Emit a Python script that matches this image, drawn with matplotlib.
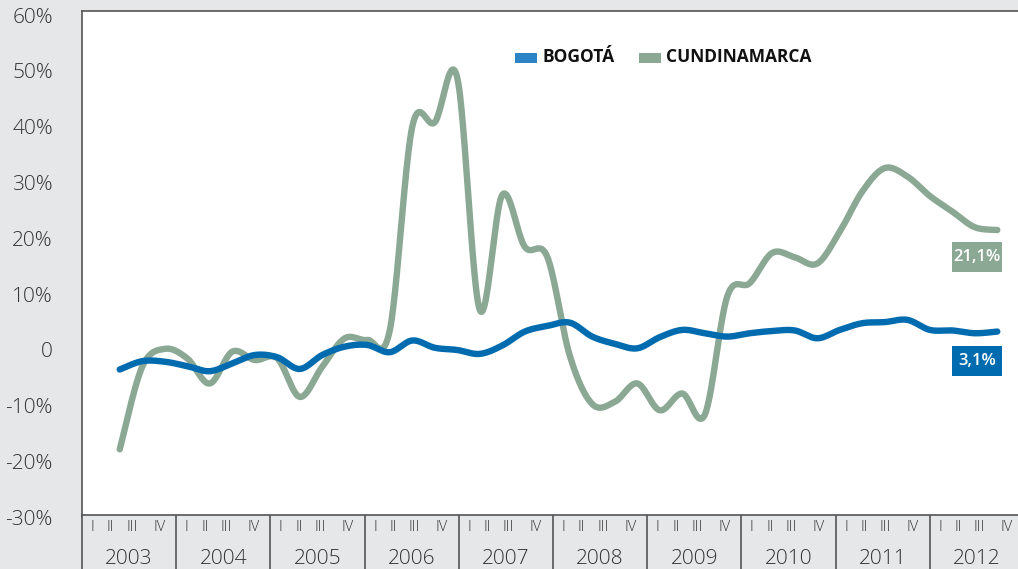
import matplotlib.pyplot as plt
import numpy as np
from matplotlib.patches import Rectangle

# datos trimestrales 2003 I - 2012 IV (variación anual, %)
years = ['2003', '2004', '2005', '2006', '2007', '2008', '2009', '2010', '2011', '2012']
quarters = ['I', 'II', 'III', 'IV']

bogota = [-3.5, -2.0, -2.1, -2.9, -3.8, -2.4, -0.9, -1.3, -3.4, -0.9,
          0.6, 0.9, -0.4, 1.7, 0.4, 0.0, -0.7, 0.8, 3.3, 4.3,
          4.9, 2.4, 1.1, 0.3, 2.3, 3.6, 3.0, 2.4, 3.0, 3.4,
          3.5, 2.1, 3.6, 4.8, 5.0, 5.4, 3.6, 3.5, 3.0, 3.3]
cundinamarca = [-17.8, -3.0, 0.2, -1.5, -6.0, -0.3, -1.8, -1.5, -8.4, -3.0,
                2.1, 1.8, 3.5, 40.0, 40.8, 48.8, 7.2, 27.8, 18.5, 16.7,
                -1.0, -9.7, -9.3, -6.0, -10.8, -7.8, -11.6, 9.6, 12.0, 17.4,
                16.6, 15.5, 21.2, 28.4, 32.6, 31.1, 27.6, 24.8, 22.0, 21.5]
bogota_label = '3,1%'
cund_label = '21,1%'

ytick_vals = [-30, -20, -10, 0, 10, 20, 30, 40, 50, 60]
ytick_labels = ['-30%', '-20%', '-10%', '0', '10%', '20%', '30%', '40%', '50%', '60%']

azul = '#006bae'
azul_ley = '#2a84c6'
verde = '#8aa893'
gris = '#e6e7e8'
texto = '#333333'
borde = '#555555'

plt.rcParams['font.family'] = ['Open Sans', 'DejaVu Sans']


# linea suavizada tipo Excel (bezier con puntos de control catmull-rom)
def suavizar(y, pasos=24):
    y = np.asarray(y, float)
    x = np.arange(len(y), dtype=float)
    xp = np.concatenate([[x[0]], x, [x[-1]]])
    yp = np.concatenate([[y[0]], y, [y[-1]]])
    t = np.linspace(0, 1, pasos, endpoint=False)
    xs = []
    ys = []
    for i in range(len(y) - 1):
        j = i + 1
        p0 = np.array([xp[j], yp[j]])
        p3 = np.array([xp[j + 1], yp[j + 1]])
        c1 = p0 + (np.array([xp[j + 1], yp[j + 1]]) - np.array([xp[j - 1], yp[j - 1]])) / 6
        c2 = p3 - (np.array([xp[j + 2], yp[j + 2]]) - np.array([xp[j], yp[j]])) / 6
        for tt in t:
            pt = (1 - tt) ** 3 * p0 + 3 * (1 - tt) ** 2 * tt * c1 + 3 * (1 - tt) * tt ** 2 * c2 + tt ** 3 * p3
            xs.append(pt[0])
            ys.append(pt[1])
    xs.append(x[-1])
    ys.append(y[-1])
    return np.array(xs), np.array(ys)


W, H = 1018, 569
fig = plt.figure(figsize=(W / 100, H / 100), dpi=100)
fig.patch.set_facecolor(gris)

# area del grafico
ax = fig.add_axes([82 / W, 1 - 517.4 / H, 936 / W, (517.4 - 10.7) / H])
ax.set_facecolor('white')
n = len(bogota)
ax.set_xlim(-1.676, 39.92)
ax.set_ylim(-30, 60.8)

xb, yb = suavizar(bogota)
xc, yc = suavizar(cundinamarca)
ax.plot(xb, yb, color=azul, lw=4.6, solid_capstyle='round', zorder=3)
ax.plot(xc, yc, color=verde, lw=4.6, solid_capstyle='round', zorder=2)

for s in ['right', 'bottom']:
    ax.spines[s].set_visible(False)
for s in ['left', 'top']:
    ax.spines[s].set_color(borde)
    ax.spines[s].set_linewidth(1.2)

ax.set_xticks([])
ax.set_yticks(ytick_vals)
ax.set_yticklabels(ytick_labels, fontsize=15, color=texto, fontweight='light')
ax.tick_params(axis='y', length=0, pad=21)

# etiquetas del ultimo valor
for val, lab, col, dy in [(cundinamarca[-1], cund_label, verde, -4.9),
                          (bogota[-1], bogota_label, azul, -5.3)]:
    cx = n - 1 - 0.9
    cy = val + dy
    ax.add_patch(Rectangle((cx - 1.11, cy - 2.69), 2.22, 5.38, facecolor=col,
                           edgecolor='none', zorder=4))
    ax.text(cx, cy, lab, color='white', fontsize=12, fontweight='semibold',
            ha='center', va='center', zorder=5)

# leyenda
fig.patches.append(Rectangle((515 / W, 1 - 62.7 / H), 22 / W, 10 / H,
                             facecolor=azul_ley, edgecolor='none', transform=fig.transFigure))
fig.text(543 / W, 1 - 57.5 / H, 'BOGOTÁ', fontsize=12.5, fontweight='bold',
         color='#111111', va='center', ha='left')
fig.patches.append(Rectangle((639 / W, 1 - 62.7 / H), 22 / W, 10 / H,
                             facecolor=verde, edgecolor='none', transform=fig.transFigure))
fig.text(666 / W, 1 - 57.5 / H, 'CUNDINAMARCA', fontsize=12.5, fontweight='bold',
         color='#111111', va='center', ha='left')

# tabla de trimestres y años
tx = fig.add_axes([82 / W, 0, 942 / W, (569 - 514.7) / H])
tx.set_facecolor(gris)
tx.set_xlim(0, 40)
tx.set_ylim(0, 1)
tx.set_xticks([])
tx.set_yticks([])
for s in ['right', 'bottom']:
    tx.spines[s].set_visible(False)
for s in ['left', 'top']:
    tx.spines[s].set_color(borde)
    tx.spines[s].set_linewidth(1.2)

offs = [0.44, 1.22, 2.11, 3.28]
for i, yr in enumerate(years):
    if i > 0:
        tx.axvline(4 * i, color=borde, lw=1.2)
    for q, o in zip(quarters, offs):
        tx.text(4 * i + o, 0.77, q, fontsize=10.5, color=texto, ha='center', va='center',
                fontweight='light')
    tx.text(4 * i + 2, 0.18, yr, fontsize=15, color=texto, ha='center', va='center',
            fontweight='light')

fig.savefig('out.png', dpi=100, facecolor=gris)
